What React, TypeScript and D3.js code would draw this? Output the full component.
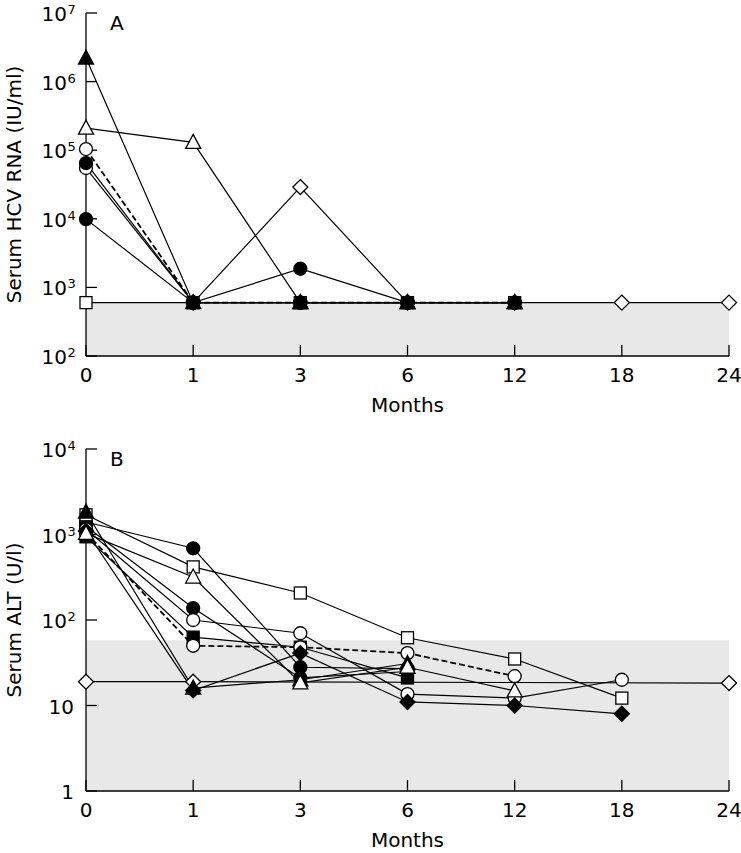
import React from "react";
import * as d3 from "d3";

const months = ["0", "1", "3", "6", "12", "18", "24"];

// Panel A: serum HCV RNA (IU/ml); detection limit 600
const hcvLimit = 600;
const hcvOpenSquare = [600, 600, 600, 600, 600, null, null];
const hcvOpenDiamond = [null, 600, 29000, 600, 600, 600, 600];
const hcvOpenCircleDashed = [104000, 600, 600, 600, 600, null, null];
const hcvOpenCircle = [55000, 600, 600, 600, null, null, null];
const hcvFilledCircle1 = [65000, 600, 600, 600, 600, null, null];
const hcvFilledCircle2 = [9900, 600, 1870, 600, null, null, null];
const hcvOpenTriangle = [210000, 130000, 600, 600, 600, null, null];
const hcvFilledTriangle = [2200000, 600, 600, 600, 600, null, null];

// Panel B: serum ALT (U/l); upper normal limit
const altLimit = 58;
const altFilledSquare = [940, 63, 48, 21, null, null, null];
const altFilledCircle1 = [1400, 690, 28, 27, null, null, null];
const altFilledCircle2 = [1250, 138, 21, 25, null, null, null];
const altOpenSquare = [1700, 418, 207, 62, 35, 12.2, null];
const altOpenCircle1 = [1150, 100, 70, 13.6, 12.2, 20, null];
const altOpenCircleDashed = [1050, 50, 48, 41, 22, null, null];
const altOpenDiamond = [19, 19, null, null, null, null, 18.3];
const altFilledDiamond = [1100, 15, 41, 11, 10, 8, null];
const altFilledTriangle = [1830, 16, 20, 31, null, null, null];
const altOpenTriangle = [1030, 318, 18.4, 28, 14.8, null, null];

type Series = { values: (number | null)[]; shape: string; filled: boolean; dashed?: boolean };

const hcvSeries: Series[] = [
  { values: hcvOpenSquare, shape: "square", filled: false },
  { values: hcvOpenDiamond, shape: "diamond", filled: false },
  { values: hcvOpenCircleDashed, shape: "circle", filled: false, dashed: true },
  { values: hcvOpenCircle, shape: "circle", filled: false },
  { values: hcvOpenTriangle, shape: "triangle", filled: false },
  { values: hcvFilledCircle1, shape: "circle", filled: true },
  { values: hcvFilledCircle2, shape: "circle", filled: true },
  { values: hcvFilledTriangle, shape: "triangle", filled: true },
];

const altSeries: Series[] = [
  { values: altFilledSquare, shape: "square", filled: true },
  { values: altFilledCircle1, shape: "circle", filled: true },
  { values: altFilledCircle2, shape: "circle", filled: true },
  { values: altOpenSquare, shape: "square", filled: false },
  { values: altOpenCircle1, shape: "circle", filled: false },
  { values: altOpenCircleDashed, shape: "circle", filled: false, dashed: true },
  { values: altOpenDiamond, shape: "diamond", filled: false },
  { values: altFilledDiamond, shape: "diamond", filled: true },
  { values: altFilledTriangle, shape: "triangle", filled: true },
  { values: altOpenTriangle, shape: "triangle", filled: false },
];

const hcvTicks = [2, 3, 4, 5, 6, 7];
const altTicks = [0, 1, 2, 3, 4];

const FONT = "'DejaVu Sans', sans-serif";
const FS = 20;

function Marker({ x, y, shape, filled }: { x: number; y: number; shape: string; filled: boolean }) {
  const fill = filled ? "#000" : "#fff";
  const common = { fill, stroke: "#000", strokeWidth: 1.3 };
  if (shape === "circle") return <circle cx={x} cy={y} r={6.5} {...common} />;
  if (shape === "square") return <rect x={x - 6} y={y - 6} width={12} height={12} {...common} />;
  if (shape === "diamond")
    return <path d={`M${x},${y - 7.5}L${x + 7.5},${y}L${x},${y + 7.5}L${x - 7.5},${y}Z`} {...common} />;
  return <path d={`M${x},${y - 8}L${x + 7.5},${y + 6}L${x - 7.5},${y + 6}Z`} {...common} />;
}

function Panel({
  top, bottom, domain, ticks, series, limit, letter, title,
}: {
  top: number; bottom: number; domain: [number, number]; ticks: number[]; series: Series[];
  limit: number; letter: string; title: string;
}) {
  const left = 86, right = 729;
  const x = d3.scalePoint<string>().domain(months).range([left, right]);
  const y = d3.scaleLog().domain(domain).range([bottom, top]);
  const line = d3
    .line<{ m: string; v: number | null }>()
    .x((d) => x(d.m)!)
    .y((d) => y(d.v as number));
  const paths = series.map((s) => {
    const pts = months.map((m, i) => ({ m, v: s.values[i] })).filter((d) => d.v != null);
    return line(pts);
  });
  return (
    <g>
      <rect x={left} y={y(limit)} width={right - left} height={bottom - y(limit)} fill="#e8e8e8" />
      <line x1={left} x2={left} y1={top} y2={bottom} stroke="#000" strokeWidth={1.3} />
      <line x1={left} x2={right} y1={bottom} y2={bottom} stroke="#000" strokeWidth={1.3} />
      {ticks.map((t) => {
        const ty = y(Math.pow(10, t));
        return (
          <g key={t}>
            <line x1={left} x2={left + 11} y1={ty} y2={ty} stroke="#000" strokeWidth={1.3} />
            {t >= 2 ? (
              <>
                <text x={67} y={ty + 8} fontSize={FS} textAnchor="end" fontFamily={FONT}>
                  10
                </text>
                <text x={67.5} y={ty + 1} fontSize={13} fontFamily={FONT}>
                  {t}
                </text>
              </>
            ) : (
              <text x={74} y={ty + 8} fontSize={FS} textAnchor="end" fontFamily={FONT}>
                {String(Math.pow(10, t))}
              </text>
            )}
          </g>
        );
      })}
      {months.map((m) => (
        <g key={m}>
          <line x1={x(m)} x2={x(m)} y1={bottom} y2={bottom - 11} stroke="#000" strokeWidth={1.3} />
          <text x={x(m)} y={bottom + 26} fontSize={FS} textAnchor="middle" fontFamily={FONT}>
            {m}
          </text>
        </g>
      ))}
      <text x={(left + right) / 2} y={bottom + 56} fontSize={FS} textAnchor="middle" fontFamily={FONT}>
        Months
      </text>
      <text
        transform={`translate(${21},${(top + bottom) / 2}) rotate(-90)`}
        fontSize={FS}
        textAnchor="middle"
        fontFamily={FONT}
      >
        {title}
      </text>
      <text x={110} y={top + 17} fontSize={FS} fontFamily={FONT}>
        {letter}
      </text>
      {series.map((s, i) => (
        <path
          key={i}
          d={paths[i] || ""}
          fill="none"
          stroke="#000"
          strokeWidth={s.dashed ? 1.8 : 1.2}
          strokeDasharray={s.dashed ? "6,3" : undefined}
        />
      ))}
      {series.map((s, i) =>
        months.map((m, j) =>
          s.values[j] == null ? null : (
            <Marker key={`${i}-${j}`} x={x(m)!} y={y(s.values[j] as number)} shape={s.shape} filled={s.filled} />
          )
        )
      )}
    </g>
  );
}

export default function App() {
  return (
    <svg width={741} height={853} style={{ position: "absolute", left: 0, top: 0, background: "#fff" }}>
      <rect width={741} height={853} fill="#fff" />
      <Panel
        top={13}
        bottom={356}
        domain={[1e2, 1e7]}
        ticks={hcvTicks}
        series={hcvSeries}
        limit={hcvLimit}
        letter="A"
        title="Serum HCV RNA (IU/ml)"
      />
      <Panel
        top={449}
        bottom={791}
        domain={[1, 1e4]}
        ticks={altTicks}
        series={altSeries}
        limit={altLimit}
        letter="B"
        title="Serum ALT (U/l)"
      />
    </svg>
  );
}
